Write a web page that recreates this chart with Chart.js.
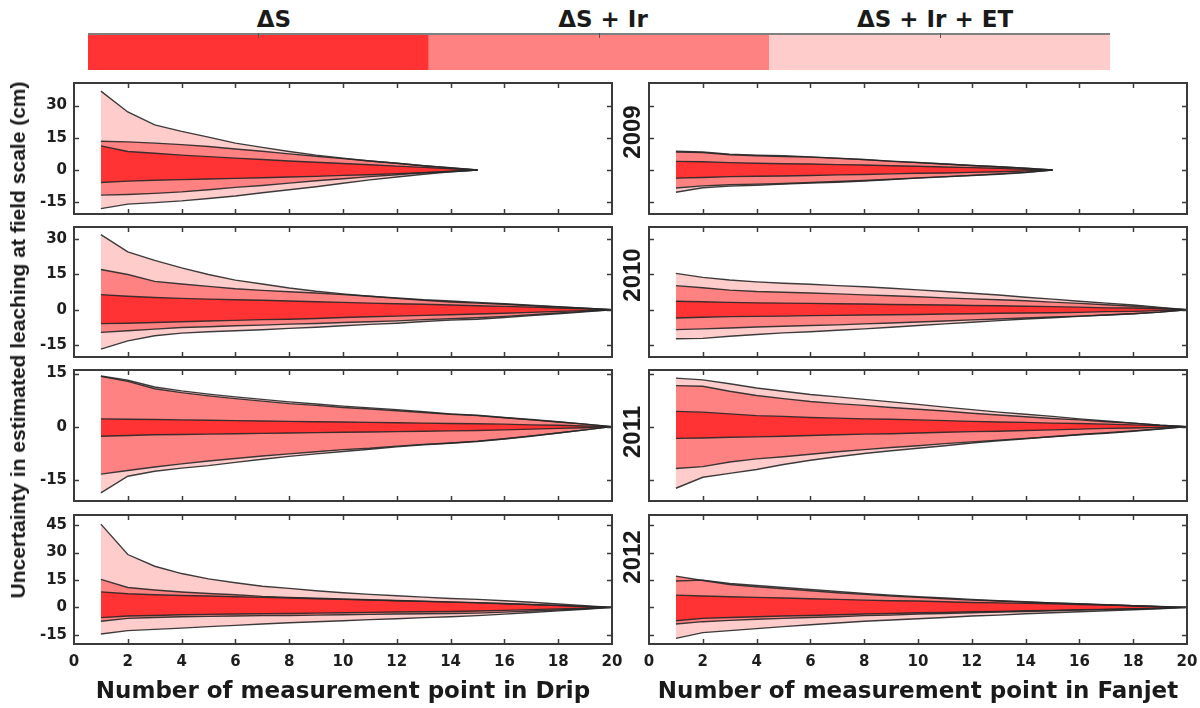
<!DOCTYPE html>
<html>
<head>
<meta charset="utf-8">
<script src="https://cdn.jsdelivr.net/npm/chart.js@4/dist/chart.umd.min.js"></script>
<style>
  body { margin: 0; background: #fff; width: 1200px; height: 708px; position: relative; overflow: hidden; }
  canvas { position: absolute; }
  .lbl { position: absolute; white-space: nowrap; color: #1a1a1a; font-weight: bold; line-height: 1; }
</style>
</head>
<body>
<script>
// axis ticks
const xTicks = [0, 2, 4, 6, 8, 10, 12, 14, 16, 18, 20];
const yTicksByRow = [[-15, 0, 15, 30], [-15, 0, 15, 30], [-15, 0, 15], [-15, 0, 15, 30, 45]];
const yRangeByRow = [[-20.5, 40.5], [-20, 35], [-21, 16], [-20, 50.5]];
const years = ["2009", "2010", "2011", "2012"];

// legend (colour bar)
const bandNames = ["ΔS", "ΔS + Ir", "ΔS + Ir + ET"];
const bandColors = ["#ff3333", "#ff8282", "#ffcccc"];

// upper / lower bounds of each band, per year and system
const drip2009 = {
    etUp: [36.7, 27, 21, 18, 15.3, 12.5, 10.5, 8.6, 6.9, 5.5, 4.2, 3.1, 2.0, 1.1, 0],
    irUp: [13.4, 13.1, 12.5, 11.8, 10.9, 9.8, 8.7, 7.5, 6.4, 5.3, 4.2, 3.1, 2.0, 1.0, 0],
    sUp: [11.2, 8.6, 7.8, 6.9, 6.2, 5.5, 4.9, 4.2, 3.6, 3.0, 2.4, 1.8, 1.2, 0.6, 0],
    sLo: [-5.8, -5.2, -4.8, -4.5, -4.2, -3.9, -3.6, -3.3, -3.0, -2.5, -2.2, -1.7, -1.3, -0.8, 0],
    irLo: [-11.7, -11.4, -10.9, -10.2, -9.2, -8.1, -7.2, -6.1, -5.0, -4.1, -3.1, -2.2, -1.3, -0.6, 0],
    etLo: [-18, -15.9, -15.2, -14.4, -13.3, -12.1, -10.6, -9.2, -7.8, -6.2, -4.6, -3.3, -2.0, -0.8, 0]
};
const fan2009 = {
    etUp: [8.8, 8.4, 7.4, 6.9, 6.6, 6.1, 5.5, 4.9, 4.1, 3.5, 2.8, 2.1, 1.5, 0.8, 0],
    irUp: [8.4, 8.1, 7.1, 6.6, 6.3, 6.0, 5.4, 4.8, 4.0, 3.4, 2.8, 2.1, 1.5, 0.8, 0],
    sUp: [4.0, 3.8, 3.4, 3.1, 2.9, 2.8, 2.5, 2.3, 2.0, 1.7, 1.4, 1.1, 0.8, 0.3, 0],
    sLo: [-3.8, -3.5, -3.1, -2.9, -2.8, -2.6, -2.3, -2.1, -1.8, -1.5, -1.4, -1.1, -0.8, -0.5, 0],
    irLo: [-8.4, -7.4, -6.9, -6.6, -6.3, -5.8, -5.4, -4.9, -4.3, -3.7, -3.1, -2.5, -1.8, -1.1, 0],
    etLo: [-10.4, -8.3, -7.5, -7.1, -6.6, -6.1, -5.7, -5.1, -4.5, -3.8, -3.2, -2.6, -2.0, -1.2, 0]
};
const drip2010 = {
    etUp: [31.8, 24.5, 20.9, 17.7, 14.9, 12.5, 10.9, 9.2, 7.8, 6.7, 5.7, 4.8, 4.0, 3.3, 2.8, 2.3, 1.7, 1.2, 0.6, 0],
    irUp: [17.0, 14.9, 12.0, 10.9, 9.9, 8.9, 8.2, 7.6, 7.1, 6.4, 5.7, 5.0, 4.2, 3.7, 3.1, 2.5, 1.9, 1.3, 0.6, 0],
    sUp: [6.4, 5.7, 5.2, 4.8, 4.5, 4.2, 4.0, 3.7, 3.4, 3.1, 2.8, 2.5, 2.3, 2.0, 1.7, 1.4, 1.1, 0.7, 0.4, 0],
    sLo: [-5.9, -5.7, -5.4, -5.1, -4.8, -4.5, -4.2, -4.0, -3.7, -3.3, -3.0, -2.7, -2.4, -2.1, -1.8, -1.5, -1.1, -0.7, -0.4, 0],
    irLo: [-9.6, -8.9, -8.2, -7.5, -7.2, -6.8, -6.5, -6.1, -5.8, -5.4, -5.1, -4.7, -4.2, -3.8, -3.4, -2.8, -2.1, -1.4, -0.7, 0],
    etLo: [-16.7, -13.2, -11.0, -9.9, -9.3, -8.9, -8.5, -7.9, -7.4, -6.8, -6.2, -5.7, -5.0, -4.4, -4.0, -3.3, -2.5, -1.7, -0.9, 0]
};
const fan2010 = {
    etUp: [15.4, 13.7, 12.6, 11.8, 11.2, 10.8, 10.2, 9.7, 9.1, 8.4, 7.7, 7.0, 6.2, 5.3, 4.5, 3.6, 2.8, 2.0, 1.0, 0],
    irUp: [10.2, 9.3, 8.3, 7.7, 7.4, 7.1, 6.7, 6.3, 5.9, 5.5, 5.0, 4.6, 4.2, 3.8, 3.2, 2.7, 2.1, 1.5, 0.8, 0],
    sUp: [3.6, 3.4, 3.1, 2.9, 2.8, 2.7, 2.5, 2.4, 2.2, 2.1, 2.0, 1.8, 1.7, 1.5, 1.3, 1.1, 0.8, 0.7, 0.4, 0],
    sLo: [-3.5, -3.2, -2.9, -2.8, -2.7, -2.5, -2.4, -2.2, -2.1, -2.0, -1.8, -1.7, -1.5, -1.4, -1.3, -1.1, -0.8, -0.7, -0.4, 0],
    irLo: [-8.4, -8.1, -7.7, -7.3, -7.0, -6.7, -6.4, -6.0, -5.6, -5.2, -4.8, -4.3, -3.9, -3.5, -3.1, -2.7, -2.2, -1.7, -1.0, 0],
    etLo: [-12.3, -12.1, -11.2, -10.5, -9.8, -9.3, -8.7, -8.1, -7.4, -6.7, -6.0, -5.3, -4.6, -3.9, -3.4, -2.8, -2.2, -1.7, -1.0, 0]
};
const drip2011 = {
    etUp: [14.3, 13.1, 11.2, 10.1, 9.2, 8.4, 7.7, 7.0, 6.4, 5.8, 5.3, 4.8, 4.2, 3.6, 3.2, 2.6, 2.0, 1.4, 0.7, 0],
    irUp: [14.2, 12.8, 10.7, 9.6, 8.7, 7.9, 7.2, 6.5, 6.0, 5.4, 5.0, 4.5, 4.0, 3.5, 3.1, 2.5, 1.9, 1.3, 0.7, 0],
    sUp: [2.2, 2.1, 2.0, 1.9, 1.8, 1.7, 1.6, 1.5, 1.4, 1.3, 1.2, 1.1, 1.0, 0.9, 0.8, 0.7, 0.5, 0.4, 0.2, 0],
    sLo: [-2.7, -2.5, -2.3, -2.2, -2.1, -2.0, -1.9, -1.8, -1.7, -1.6, -1.5, -1.4, -1.3, -1.2, -1.1, -0.9, -0.7, -0.5, -0.3, 0],
    irLo: [-13.4, -12.4, -11.4, -10.5, -9.7, -9.0, -8.3, -7.7, -7.1, -6.5, -6.1, -5.5, -5.0, -4.6, -4.1, -3.4, -2.6, -1.8, -0.9, 0],
    etLo: [-18.7, -14.0, -12.6, -11.7, -11.0, -10.1, -9.2, -8.4, -7.7, -7.0, -6.4, -5.7, -5.1, -4.7, -4.2, -3.5, -2.7, -1.8, -0.9, 0]
};
const fan2011 = {
    etUp: [13.7, 13.2, 12.1, 10.9, 10.0, 9.1, 8.4, 7.7, 7.0, 6.3, 5.5, 4.8, 4.1, 3.5, 2.9, 2.2, 1.6, 1.0, 0.4, 0],
    irUp: [11.6, 11.4, 10.0, 8.8, 7.9, 7.1, 6.5, 6.0, 5.4, 4.9, 4.4, 3.8, 3.3, 2.8, 2.3, 1.9, 1.4, 1.0, 0.4, 0],
    sUp: [4.3, 4.1, 3.6, 3.1, 2.9, 2.6, 2.4, 2.2, 2.1, 1.9, 1.7, 1.5, 1.3, 1.2, 1.0, 0.9, 0.7, 0.5, 0.3, 0],
    sLo: [-3.3, -3.2, -3.0, -2.9, -2.7, -2.5, -2.3, -2.1, -2.0, -1.8, -1.6, -1.4, -1.3, -1.1, -0.9, -0.7, -0.5, -0.4, -0.2, 0],
    irLo: [-11.8, -11.3, -10.0, -9.1, -8.5, -7.8, -7.1, -6.5, -5.9, -5.4, -4.8, -4.3, -3.8, -3.3, -2.9, -2.3, -1.9, -1.3, -0.7, 0],
    etLo: [-17.4, -14.3, -13.2, -12.1, -10.7, -9.5, -8.5, -7.6, -6.8, -6.1, -5.4, -4.6, -4.0, -3.4, -2.8, -2.2, -1.7, -1.2, -0.6, 0]
};
const drip2012 = {
    etUp: [45.5, 28.9, 22.5, 18.5, 15.6, 13.5, 11.6, 10.4, 9.1, 8.0, 7.1, 6.4, 5.6, 4.9, 4.4, 3.6, 2.8, 1.9, 1.0, 0],
    irUp: [15.3, 10.9, 9.5, 8.4, 7.6, 6.9, 6.0, 5.5, 5.0, 4.6, 4.2, 3.8, 3.4, 3.0, 2.6, 2.1, 1.6, 1.1, 0.5, 0],
    sUp: [8.5, 7.5, 6.9, 6.5, 6.2, 5.8, 5.5, 5.1, 4.7, 4.4, 4.0, 3.6, 3.3, 2.9, 2.5, 2.0, 1.5, 1.0, 0.5, 0],
    sLo: [-5.6, -4.7, -4.4, -4.0, -3.8, -3.6, -3.5, -3.3, -3.1, -2.9, -2.7, -2.5, -2.4, -2.2, -2.0, -1.6, -1.2, -0.8, -0.4, 0],
    irLo: [-7.6, -6.0, -5.5, -5.1, -4.9, -4.7, -4.5, -4.4, -4.2, -4.0, -3.8, -3.6, -3.5, -3.3, -3.1, -2.6, -2.0, -1.4, -0.7, 0],
    etLo: [-14.5, -12.7, -12.0, -11.3, -10.5, -9.8, -9.1, -8.4, -7.8, -7.3, -6.7, -6.2, -5.6, -5.1, -4.5, -3.7, -2.8, -1.9, -1.0, 0]
};
const fan2012 = {
    etUp: [14.4, 14.9, 13.1, 12.0, 10.9, 9.8, 8.7, 7.6, 6.7, 5.8, 5.1, 4.4, 3.6, 3.1, 2.5, 2.0, 1.5, 0.9, 0.4, 0],
    irUp: [17.1, 14.7, 12.5, 11.3, 10.2, 9.1, 8.0, 7.1, 6.2, 5.5, 4.7, 4.0, 3.5, 2.9, 2.4, 1.9, 1.4, 0.9, 0.4, 0],
    sUp: [6.7, 6.2, 5.8, 5.5, 5.1, 4.7, 4.4, 4.0, 3.6, 3.5, 3.1, 2.7, 2.5, 2.2, 2.0, 1.6, 1.3, 0.9, 0.5, 0],
    sLo: [-7.3, -6.0, -5.5, -5.1, -4.7, -4.4, -4.0, -3.6, -3.3, -2.9, -2.7, -2.4, -2.2, -1.8, -1.6, -1.3, -1.1, -0.7, -0.4, 0],
    irLo: [-9.1, -7.8, -7.1, -6.5, -6.0, -5.5, -5.1, -4.5, -4.2, -3.6, -3.3, -2.9, -2.5, -2.2, -1.8, -1.5, -1.1, -0.9, -0.5, 0],
    etLo: [-16.9, -13.8, -12.7, -11.6, -10.5, -9.5, -8.5, -7.6, -6.9, -6.2, -5.5, -4.7, -4.2, -3.5, -2.9, -2.4, -1.8, -1.3, -0.7, 0]
};

const dripPanels = [drip2009, drip2010, drip2011, drip2012];
const fanPanels = [fan2009, fan2010, fan2011, fan2012];

Chart.defaults.font.family = "'DejaVu Sans', sans-serif";
Chart.defaults.font.weight = "bold";
Chart.defaults.font.size = 15;
Chart.defaults.color = "#1e1e1e";

// layout of the 4x2 grid of plot areas
const colLeft = [74, 649];
const plotW = 538;
const rowTop = [83, 227, 370, 515];
const rowH = [131, 130, 131, 129];
const edgeColor = "rgba(40,40,40,0.9)";

// box with inward ticks on all four sides, like the original
const boxFrame = {
    id: "boxFrame",
    afterDraw(chart) {
        const ctx = chart.ctx;
        const a = chart.chartArea;
        const x = chart.scales.x;
        const y = chart.scales.y;
        ctx.save();
        ctx.strokeStyle = "#3a3a3a";
        ctx.lineWidth = 1.5;
        ctx.beginPath();
        x.ticks.forEach(t => {
            if (t.value <= x.min || t.value >= x.max) return;
            const px = Math.round(x.getPixelForValue(t.value)) + 0.5;
            ctx.moveTo(px, a.top); ctx.lineTo(px, a.top + 5);
            ctx.moveTo(px, a.bottom); ctx.lineTo(px, a.bottom - 5);
        });
        y.ticks.forEach(t => {
            if (t.value <= y.min || t.value >= y.max) return;
            const py = Math.round(y.getPixelForValue(t.value)) + 0.5;
            ctx.moveTo(a.left, py); ctx.lineTo(a.left + 5, py);
            ctx.moveTo(a.right, py); ctx.lineTo(a.right - 5, py);
        });
        ctx.stroke();
        ctx.lineWidth = 2;
        ctx.strokeRect(a.left, a.top, a.width, a.height);
        ctx.restore();
    }
};

function bound(arr, color, fillNext) {
    return {
        data: arr.map((v, i) => ({ x: i + 1, y: v })),
        borderColor: edgeColor,
        borderWidth: 1.4,
        backgroundColor: color,
        fill: fillNext ? "+1" : false,
        pointRadius: 0,
        tension: 0
    };
}

function addPanel(col, row, d) {
    const padL = col === 0 ? 74 : 12;
    const padT = 10, padR = 12;
    const padB = row === 3 ? 34 : 4;
    const cv = document.createElement("canvas");
    cv.width = padL + plotW + padR;
    cv.height = padT + rowH[row] + padB;
    cv.style.left = (colLeft[col] - padL) + "px";
    cv.style.top = (rowTop[row] - padT) + "px";
    document.body.appendChild(cv);

    new Chart(cv, {
        type: "line",
        data: {
            datasets: [
                bound(d.sUp, bandColors[0], true),
                bound(d.sLo, bandColors[0], false),
                bound(d.irUp, bandColors[1], true),
                bound(d.irLo, bandColors[1], false),
                bound(d.etUp, bandColors[2], true),
                bound(d.etLo, bandColors[2], false)
            ]
        },
        options: {
            responsive: false,
            animation: false,
            layout: { padding: { top: padT, right: padR, left: 0, bottom: 0 } },
            scales: {
                x: {
                    type: "linear",
                    min: 0,
                    max: 20,
                    grid: { display: false, drawTicks: false },
                    border: { display: false },
                    ticks: { display: row === 3, padding: 9, autoSkip: false, maxRotation: 0 },
                    afterBuildTicks: s => { s.ticks = xTicks.map(v => ({ value: v })); },
                    afterFit: s => {
                        s.height = padB;
                        s.paddingLeft = s.paddingRight = s.paddingTop = s.paddingBottom = 0;
                    }
                },
                y: {
                    min: yRangeByRow[row][0],
                    max: yRangeByRow[row][1],
                    grid: { display: false, drawTicks: false },
                    border: { display: false },
                    ticks: { display: col === 0, padding: 7 },
                    afterBuildTicks: s => { s.ticks = yTicksByRow[row].map(v => ({ value: v })); },
                    afterFit: s => {
                        s.width = padL;
                        s.paddingLeft = s.paddingRight = s.paddingTop = s.paddingBottom = 0;
                    }
                }
            },
            plugins: {
                legend: { display: false },
                tooltip: { enabled: false },
                filler: { drawTime: "beforeDatasetsDraw" }
            }
        },
        plugins: [boxFrame]
    });
}

for (let r = 0; r < 4; r++) {
    addPanel(0, r, dripPanels[r]);
    addPanel(1, r, fanPanels[r]);
}

// colour bar on top
const barFrame = {
    id: "barFrame",
    afterDraw(chart) {
        const ctx = chart.ctx;
        const a = chart.chartArea;
        const x = chart.scales.x;
        ctx.save();
        ctx.strokeStyle = "#808080";
        ctx.lineWidth = 2;
        ctx.beginPath();
        ctx.moveTo(a.left, a.top + 1); ctx.lineTo(a.right, a.top + 1);
        ctx.stroke();
        ctx.strokeStyle = "#555";
        ctx.lineWidth = 1;
        ctx.beginPath();
        bandNames.forEach((n, i) => {
            const px = Math.round(x.getPixelForValue(i)) + 0.5;
            ctx.moveTo(px, a.top); ctx.lineTo(px, a.top + 5);
        });
        ctx.stroke();
        ctx.restore();
    }
};

const cb = document.createElement("canvas");
cb.width = 1022;
cb.height = 37;
cb.style.left = "88px";
cb.style.top = "33px";
document.body.appendChild(cb);
new Chart(cb, {
    type: "bar",
    data: {
        labels: bandNames,
        datasets: [{
            data: bandNames.map(() => 1),
            backgroundColor: bandColors,
            borderWidth: 0,
            barPercentage: 1,
            categoryPercentage: 1
        }]
    },
    options: {
        responsive: false,
        animation: false,
        layout: { padding: 0 },
        scales: {
            x: { display: false },
            y: { display: false, min: 0, max: 1 }
        },
        plugins: { legend: { display: false }, tooltip: { enabled: false } }
    },
    plugins: [barFrame]
});

// text
function addText(txt, cx, cy, font, rotate) {
    const el = document.createElement("div");
    el.className = "lbl";
    el.textContent = txt;
    el.style.font = font;
    el.style.left = cx + "px";
    el.style.top = cy + "px";
    el.style.transform = "translate(-50%,-50%)" + (rotate ? " rotate(-90deg)" : "");
    document.body.appendChild(el);
    return el;
}

const bandLabelX = [274, 603, 935];
bandNames.forEach((n, i) => addText(n, bandLabelX[i], 19, "bold 23px 'DejaVu Sans'", false));

years.forEach((yr, i) => addText(yr, 632, [132, 275, 432, 557][i], "bold 24px 'Liberation Sans'", true));

addText("Uncertainty in estimated leaching at field scale (cm)", 18, 340, "bold 21px 'Liberation Sans'", true);
addText("Number of measurement point in Drip", 343, 690, "bold 23px 'DejaVu Sans'", false);
addText("Number of measurement point in Fanjet", 918, 690, "bold 23px 'DejaVu Sans'", false);
</script>
</body>
</html>
